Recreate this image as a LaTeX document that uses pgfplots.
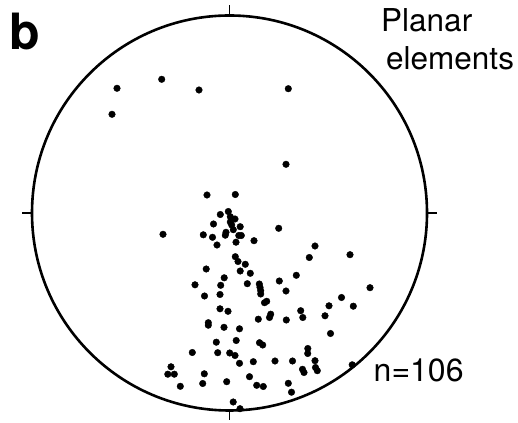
\documentclass[border=0pt]{standalone}
\usepackage{fontspec}
\setmainfont{TeX Gyre Heros}
\usepackage{pgfplots}
\usepackage{pgfplotstable}
\pgfplotsset{compat=1.18}

% pole positions, in image pixels (x right, y down)
\pgfplotstableread{
px py
117 88.3
161.7 79.3
199 90
112 114.3
288.3 88.7
286 164.3
207 195
235.3 194.5
220.3 214.5
228.3 211.5
230.3 216.7
235 219
230.3 222
213.5 224
231.7 225
240.2 226.7
233.3 229.7
226 232.3
163 234.3
203.3 234.8
212.5 237.3
225.3 235.2
238.8 235.5
241.3 235.5
217 245
236 242.2
254 240.7
278.7 228.3
235.3 256.7
238 261.5
245.3 264.3
206.2 269
240.2 271
250.3 273.3
224.2 277.8
315 246
309.3 257.5
350 254.7
296.3 275.3
279.3 281
195 284.8
220.7 285.3
247.3 283.7
259.3 284
260 287.3
260.7 290.7
260.7 294
286 291
204.5 296
220 294.5
266.7 301.3
264.5 302.7
370 287.7
341.5 297.5
329 305.8
353.3 306.2
220 308.8
228 311.3
300.7 310.7
302.8 317.5
270.7 314.2
269.5 317.5
258.3 319.2
286.3 320
325 315.8
208.3 322.7
208.3 325.2
224 327.3
239.5 328.8
330.5 333.5
216.3 342.2
236.2 340.5
259.5 342.7
262.7 345
307.8 348.5
307.7 353.5
192.3 352.5
217.7 352.7
229.7 353
235 355.5
239.5 363.3
253.3 361.7
275 361
292.5 361
315 360.7
302.5 369.3
304 372.5
315.5 367.5
317.3 370.7
352.2 364.8
171 366.8
167.8 374.2
174.3 374.2
204.3 373.8
202.7 383.5
180.3 386.3
226.7 381.7
249.5 376.7
256.7 385.3
263.3 386.5
288.3 383.3
291.5 392.2
233.2 402
240 408.7
}\poles

\begin{document}
\begin{tikzpicture}
\path[use as bounding box] (0,0) rectangle (518pt,422pt);
\begin{axis}[
    at={(229.5pt,209pt)}, anchor=origin,
    width=395pt, height=395pt, scale only axis,
    xmin=-1, xmax=1, ymin=-1, ymax=1,
    axis lines=none, clip=false,
]
\coordinate (C) at (axis cs:0,0);
\coordinate (N) at (axis cs:0,1);
\coordinate (S) at (axis cs:0,-1);
\coordinate (W) at (axis cs:-1,0);
\coordinate (E) at (axis cs:1,0);
\addplot[only marks, mark=*, mark size=3.3pt, black]
    table[x expr=(\thisrow{px}-229.5)/197.5, y expr=(213-\thisrow{py})/197.5] {\poles};
\end{axis}
\draw[line width=2.6pt] (C) circle[radius=197.5pt];
\draw[line width=1.4pt] (N) -- ++(0,10pt);
\draw[line width=1.4pt] (S) -- ++(0,-10pt);
\draw[line width=1.4pt] (W) -- ++(-10pt,0);
\draw[line width=1.4pt] (E) -- ++(10pt,0);
\node[anchor=base west, inner sep=0] at (9pt,372pt) {\fontsize{50}{60}\selectfont\bfseries b};
\node[anchor=base west, inner sep=0] at (381pt,390.3pt) {\fontsize{31.5}{37}\selectfont Planar};
\node[anchor=base west, inner sep=0] at (386pt,352.7pt) {\fontsize{31.5}{37}\selectfont elements};
\node[anchor=base west, inner sep=0] at (373.5pt,40.3pt) {\fontsize{32}{37}\selectfont n=106};
\end{tikzpicture}
\end{document}
